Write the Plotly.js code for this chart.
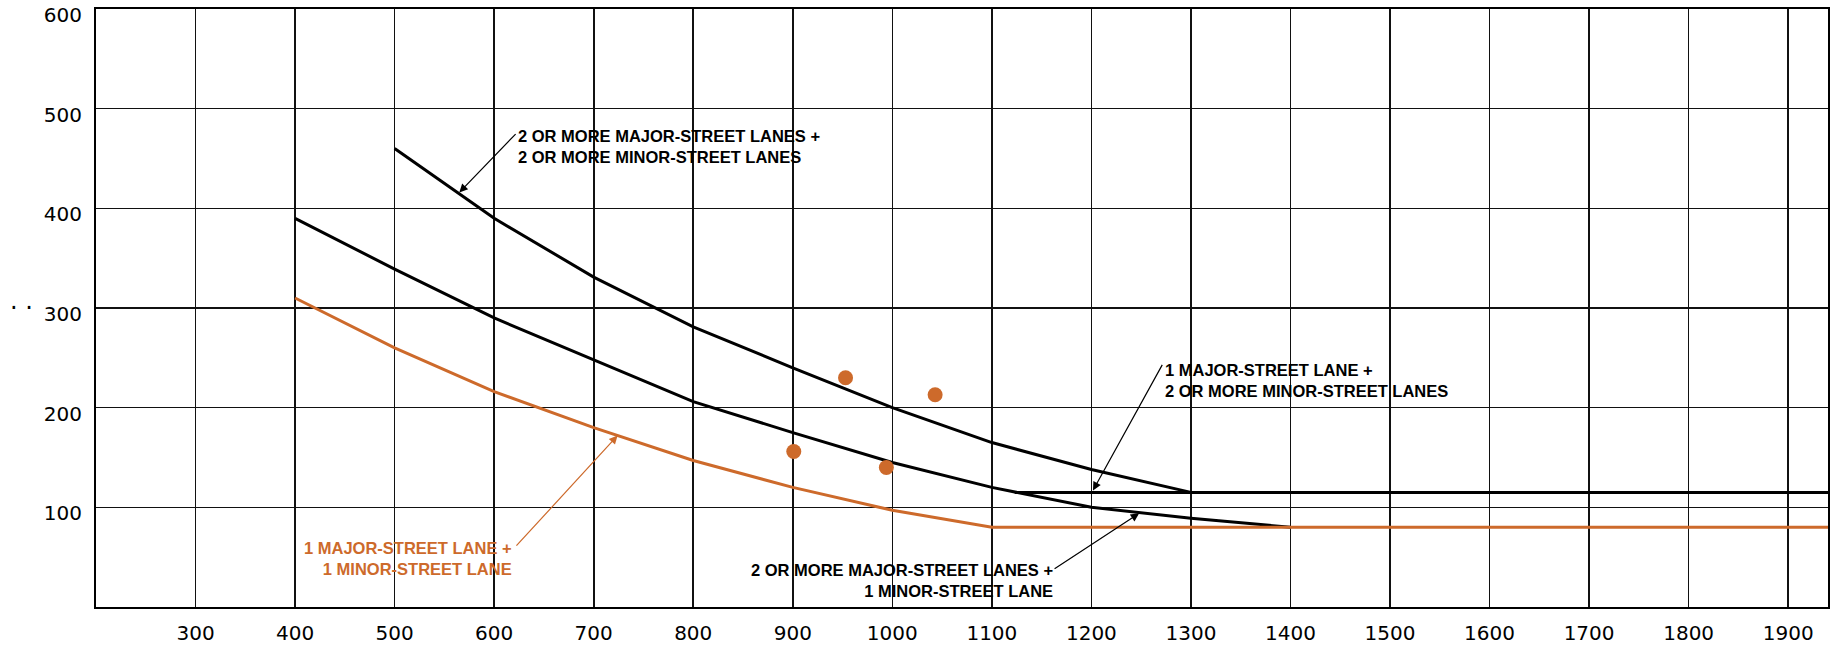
<!DOCTYPE html>
<html>
<head>
<meta charset="utf-8">
<script src="https://cdn.plot.ly/plotly-3.0.1.min.js"></script>
<style>
  html, body { margin: 0; padding: 0; background: #fff; }
  #chart { width: 1837px; height: 649px; }
</style>
</head>
<body>
<div id="chart"></div>
<script>
// ---- tick labels ----
const xTickVals = [300, 400, 500, 600, 700, 800, 900, 1000, 1100, 1200, 1300, 1400, 1500, 1600, 1700, 1800, 1900];
const yTickVals = [100, 200, 300, 400, 500, 600];

// ---- curves (major-street vph on x, minor-street vph on y) ----
const twoPlusTwoX = [500, 600, 700, 800, 900, 1000, 1100, 1200, 1300];
const twoPlusTwoY = [460, 390, 331, 281, 240, 200, 165, 138, 115];

const middleX = [400, 500, 600, 700, 800, 900, 1000, 1100, 1200, 1300, 1400];
const middleY = [390, 339, 290, 248, 206, 175, 145, 120, 100, 89, 80];

const minorTwoFloorX = [1123, 1940];
const minorTwoFloorY = [115, 115];

const oneOneX = [400, 500, 600, 700, 800, 900, 1000, 1100, 1940];
const oneOneY = [310, 260, 216, 180, 147, 120, 97, 80, 80];

// ---- observed points ----
const pointX = [953, 1043, 901, 994];
const pointY = [230, 213, 156, 140];

// ---- labels ----
const labelTexts = [
  '2 OR MORE MAJOR-STREET LANES +<br>2 OR MORE MINOR-STREET LANES',
  '1 MAJOR-STREET LANE +<br>1 MINOR-STREET LANE',
  '1 MAJOR-STREET LANE +<br>2 OR MORE MINOR-STREET LANES',
  '2 OR MORE MAJOR-STREET LANES +<br>1 MINOR-STREET LANE'
];
const labelX = [622, 620, 1272, 1163];
const labelY = [462.5, 48.4, 227.6, 26.6];
const labelAnchor = ['left', 'right', 'left', 'right'];
const arrowHeadX = [565, 724, 1201.6, 1248];
const arrowHeadY = [416, 172, 117, 94];
const arrowTailX = [623, 621, 1272, 1161.5];
const arrowTailY = [476, 60, 244.4, 37.4];

const BLACK = '#000000';
const ORANGE = '#CD6A2B';
const labelColors = [BLACK, ORANGE, BLACK, BLACK];

const lineTrace = (x, y, color) => ({
  x: x, y: y, type: 'scatter', mode: 'lines',
  line: { color: color, width: 3 }, hoverinfo: 'skip', showlegend: false
});

const data = [
  lineTrace(twoPlusTwoX, twoPlusTwoY, BLACK),
  lineTrace(middleX, middleY, BLACK),
  lineTrace(minorTwoFloorX, minorTwoFloorY, BLACK),
  lineTrace(oneOneX, oneOneY, ORANGE),
  {
    x: pointX, y: pointY, type: 'scatter', mode: 'markers',
    marker: { color: ORANGE, size: 15 }, showlegend: false
  }
];

const annotations = [];
for (let i = 0; i < labelTexts.length; i++) {
  annotations.push({
    x: labelX[i], y: labelY[i], xref: 'x', yref: 'y',
    text: labelTexts[i], showarrow: false,
    xanchor: labelAnchor[i], yanchor: 'middle', align: labelAnchor[i],
    font: { family: 'Liberation Sans, Arial, sans-serif', size: 16.5, color: labelColors[i], weight: 'bold' }
  });
  annotations.push({
    x: arrowHeadX[i], y: arrowHeadY[i], xref: 'x', yref: 'y',
    ax: arrowTailX[i], ay: arrowTailY[i], axref: 'x', ayref: 'y',
    text: '', showarrow: true, arrowhead: 2, arrowsize: 1.4, arrowwidth: 1.2,
    arrowcolor: labelColors[i], standoff: 0, startstandoff: 0
  });
}
annotations.push({
  x: -0.0433, xref: 'paper', y: 300, yref: 'y',
  text: '· ·', showarrow: false, xanchor: 'center', yanchor: 'middle',
  font: { family: 'DejaVu Sans', size: 24, color: BLACK }
});

const layout = {
  width: 1837, height: 649,
  margin: { l: 96, r: 9, t: 9, b: 42 },
  paper_bgcolor: '#ffffff', plot_bgcolor: '#ffffff',
  showlegend: false,
  xaxis: {
    range: [200, 1940], tickvals: xTickVals, ticktext: xTickVals.map(String),
    showgrid: true, gridcolor: '#111111', gridwidth: 1.6,
    showline: true, mirror: true, linecolor: BLACK, linewidth: 2,
    zeroline: false, ticks: '', ticklabelstandoff: 7, ticklabeloverflow: 'allow',
    tickfont: { family: 'DejaVu Sans', size: 20, color: BLACK }
  },
  yaxis: {
    range: [0, 600], tickvals: yTickVals, ticktext: yTickVals.map(String),
    showgrid: true, gridcolor: '#111111', gridwidth: 1.6,
    showline: true, mirror: true, linecolor: BLACK, linewidth: 2,
    zeroline: false, ticks: '', ticklabelstandoff: 8, ticklabeloverflow: 'allow',
    ticklabelshift: 6,
    tickfont: { family: 'DejaVu Sans', size: 20, color: BLACK }
  },
  annotations: annotations
};

Plotly.newPlot('chart', data, layout, { displayModeBar: false, staticPlot: true });
</script>
</body>
</html>
